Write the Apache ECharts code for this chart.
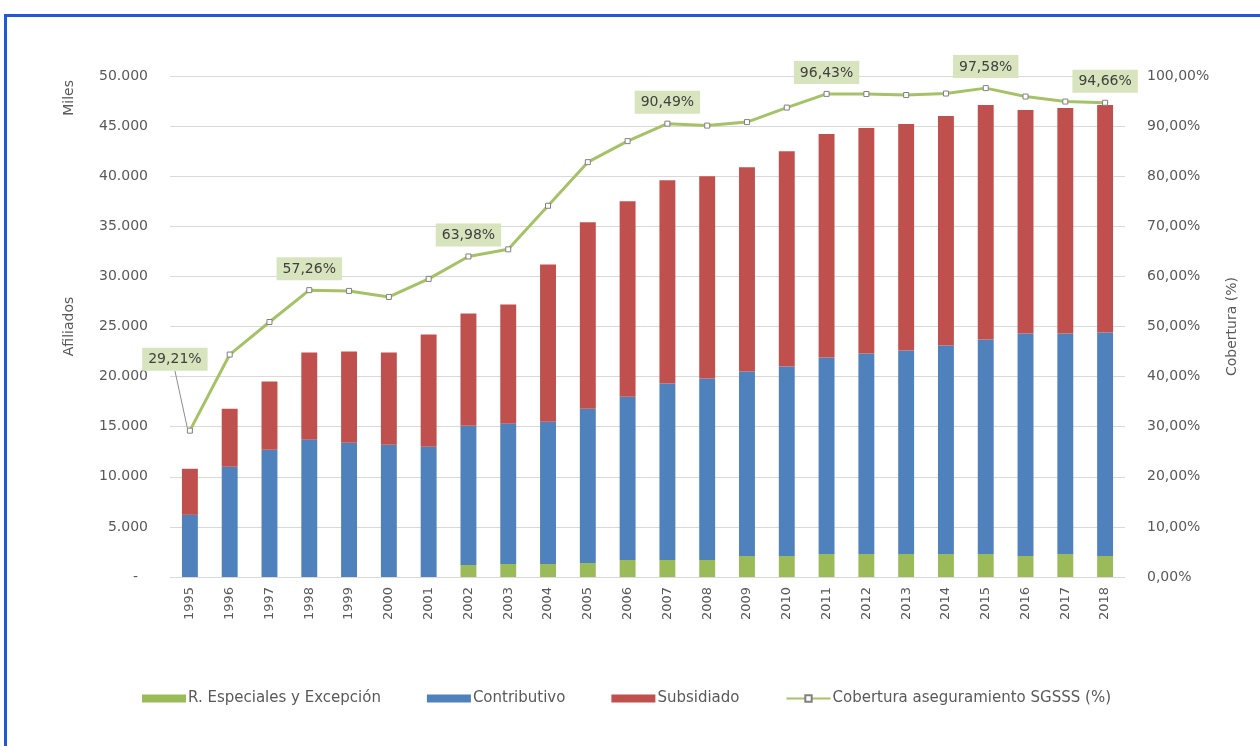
<!DOCTYPE html>
<html>
<head>
<meta charset="utf-8">
<script src="https://cdn.jsdelivr.net/npm/echarts@6/dist/echarts.min.js"></script>
<style>
  html, body { margin: 0; padding: 0; background: #ffffff; overflow: hidden; }
  #frame { position: absolute; left: 4px; top: 14px; width: 1400px; height: 900px; border: 3px solid #1c5bd4; box-sizing: border-box; }
  #chart { position: absolute; left: 0; top: 0; width: 1260px; height: 746px; }
</style>
</head>
<body>
<div id="frame"></div>
<div id="chart"></div>
<script>
// ---- data (Miles de afiliados / % cobertura) ----
const years = ['1995','1996','1997','1998','1999','2000','2001','2002','2003','2004','2005','2006',
               '2007','2008','2009','2010','2011','2012','2013','2014','2015','2016','2017','2018'];
const especiales = [0, 0, 0, 0, 0, 0, 0, 1200, 1300, 1300, 1400, 1700,
                    1700, 1700, 2100, 2100, 2300, 2300, 2300, 2300, 2300, 2100, 2300, 2100];
const contributivo = [6200, 11000, 12700, 13700, 13400, 13200, 13000, 13900, 14000, 14200, 15400, 16300,
                      17600, 18100, 18400, 18900, 19600, 20000, 20300, 20800, 21400, 22200, 22000, 22300];
const subsidiado = [4600, 5800, 6800, 8700, 9100, 9200, 11200, 11200, 11900, 15700, 18600, 19500,
                    20300, 20200, 20400, 21500, 22300, 22500, 22600, 22900, 23400, 22300, 22500, 22700];
const cobertura = [29.21, 44.4, 50.9, 57.26, 57.1, 55.9, 59.5, 63.98, 65.4, 74.1, 82.8, 87.0,
                   90.49, 90.1, 90.8, 93.7, 96.43, 96.4, 96.2, 96.5, 97.58, 95.9, 94.9, 94.66];
const labeledYears = ['1995', '1998', '2002', '2007', '2011', '2015', '2018'];
const seriesNames = ['R. Especiales y Excepción', 'Contributivo', 'Subsidiado', 'Cobertura aseguramiento SGSSS (%)'];

const FONT = 'DejaVu Sans';
const GRAY = '#595959';
const fmtMiles = v => String(v).replace(/\B(?=(\d{3})+(?!\d))/g, '.');
const fmtPct = v => v.toFixed(2).replace('.', ',') + '%';

const lineData = cobertura.map((v, i) => {
  const show = labeledYears.indexOf(years[i]) >= 0;
  const item = { value: v, label: { show: show } };
  if (i === 0) item.labelLine = { show: true, lineStyle: { color: '#8c8c8c', width: 1 } };
  return item;
});

const chart = echarts.init(document.getElementById('chart'), null, { renderer: 'canvas' });
chart.setOption({
  backgroundColor: 'transparent',
  animation: false,
  textStyle: { fontFamily: FONT },
  grid: { left: 170, right: 135, top: 76, bottom: 169 },
  legend: {
    left: 137, top: 686,
    itemWidth: 44, itemHeight: 8, itemGap: 46,
    textStyle: { fontFamily: FONT, fontSize: 15, color: GRAY, padding: [0, 0, 0, -3] },
    data: [
      { name: seriesNames[0], icon: 'rect' },
      { name: seriesNames[1], icon: 'rect' },
      { name: seriesNames[2], icon: 'rect' },
      { name: seriesNames[3] }
    ]
  },
  graphic: [{
    type: 'text', left: 62, top: 80, rotation: Math.PI / 2,
    style: { text: 'Miles', fontFamily: FONT, fontSize: 14, fill: GRAY }
  }],
  xAxis: {
    type: 'category', data: years,
    axisTick: { show: false },
    axisLine: { lineStyle: { color: '#d9d9d9' } },
    axisLabel: { rotate: 90, fontSize: 13, color: GRAY, margin: 10, fontFamily: FONT }
  },
  yAxis: [{
    type: 'value', min: 0, max: 50000, interval: 5000,
    name: 'Afiliados', nameLocation: 'middle', nameGap: 94, nameRotate: 90,
    nameTextStyle: { fontSize: 14, color: GRAY, fontFamily: FONT },
    axisLine: { show: false }, axisTick: { show: false },
    splitLine: { lineStyle: { color: '#d9d9d9' } },
    axisLabel: {
      fontSize: 14, color: GRAY, margin: 22, fontFamily: FONT,
      formatter: v => v === 0 ? '{z|-}' : fmtMiles(v),
      rich: { z: { fontSize: 14, color: GRAY, padding: [0, 10, 0, 0] } }
    }
  }, {
    type: 'value', min: 0, max: 100, interval: 10,
    name: 'Cobertura (%)', nameLocation: 'middle', nameGap: 100, nameRotate: 90,
    nameTextStyle: { fontSize: 14, color: GRAY, fontFamily: FONT },
    axisLine: { show: false }, axisTick: { show: false },
    splitLine: { show: false },
    axisLabel: { fontSize: 14, color: GRAY, margin: 22, fontFamily: FONT, formatter: v => fmtPct(v) }
  }],
  series: [{
    name: seriesNames[0], type: 'bar', stack: 'a', barWidth: '40%',
    itemStyle: { color: '#9bbb59' }, data: especiales
  }, {
    name: seriesNames[1], type: 'bar', stack: 'a',
    itemStyle: { color: '#4f81bd' }, data: contributivo
  }, {
    name: seriesNames[2], type: 'bar', stack: 'a',
    itemStyle: { color: '#c0504d' }, data: subsidiado
  }, {
    name: seriesNames[3], type: 'line', yAxisIndex: 1, z: 5,
    symbol: 'rect', symbolSize: 5,
    lineStyle: { color: '#a5c267', width: 3 },
    itemStyle: { color: '#ffffff', borderColor: '#808080', borderWidth: 1 },
    label: {
      position: 'top', distance: 7, fontSize: 14, color: '#404040', fontFamily: FONT,
      backgroundColor: '#d7e4bd', padding: [5, 6, 4, 6],
      formatter: p => fmtPct(p.value)
    },
    labelLayout: p => p.dataIndex === 0 ? { dx: -15, dy: -50 } : {},
    data: lineData
  }]
});
</script>
</body>
</html>
